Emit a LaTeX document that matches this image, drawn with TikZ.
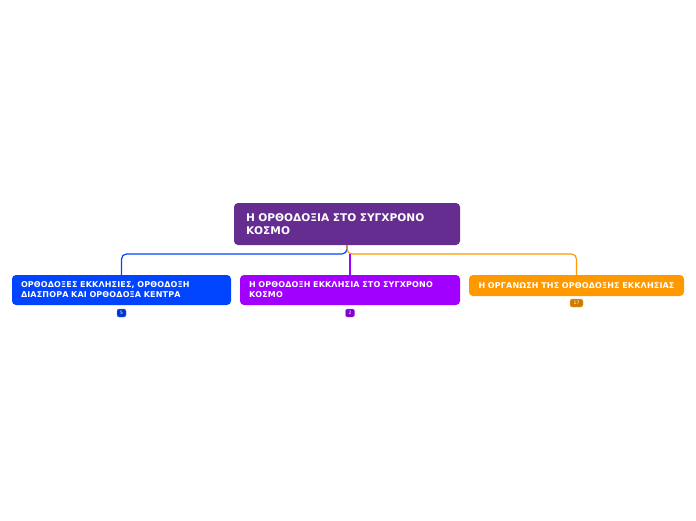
\documentclass[tikz,border=0pt]{standalone}
\usepackage{fontspec}
\setmainfont{DejaVu Sans}
\newfontfamily\topicfont[LetterSpace=2]{DejaVu Sans}
\usepackage{xcolor}
\definecolor{rootcol}{HTML}{662D91}
\definecolor{bluecol}{HTML}{0044FF}
\definecolor{purpcol}{HTML}{A100FF}
\definecolor{orancol}{HTML}{FF9900}
\tikzset{
  topic/.style={fill=#1, text=white, rounded corners=4pt, font=\topicfont\bfseries\fontsize{8}{10}\selectfont,
    inner xsep=9pt, inner ysep=0pt, align=left},
  badge/.style={fill=#1!80!black, draw=#1!70!white, rounded corners=2pt, text=white,
    font=\fontsize{4.5}{5}\selectfont, inner sep=0pt, minimum height=8pt, minimum width=9pt},
  link/.style={line width=1.2pt, rounded corners=5pt}
}
\begin{document}
\begin{tikzpicture}[x=1pt,y=-1pt]
  \useasboundingbox (0,0) rectangle (696,520);
  \node[topic=rootcol, font=\bfseries\fontsize{10.6}{13}\selectfont, inner xsep=12pt,
    text width=202pt, minimum height=42pt] (root) at (347,224)
    {Η ΟΡΘΟΔΟΞΙΑ ΣΤΟ ΣΥΓΧΡΟΝΟ\\ΚΟΣΜΟ};
  \node[topic=bluecol, text width=201pt, minimum height=30pt] (a) at (121.5,290)
    {ΟΡΘΟΔΟΞΕΣ ΕΚΚΛΗΣΙΕΣ, ΟΡΘΟΔΟΞΗ\\ΔΙΑΣΠΟΡΑ ΚΑΙ ΟΡΘΟΔΟΞΑ ΚΕΝΤΡΑ};
  \node[topic=purpcol, text width=202pt, minimum height=30pt] (b) at (350,290)
    {Η ΟΡΘΟΔΟΞΗ ΕΚΚΛΗΣΙΑ ΣΤΟ ΣΥΓΧΡΟΝΟ\\ΚΟΣΜΟ};
  \node[topic=orancol, align=center, text width=197pt, minimum height=21pt] (c) at (576.5,285.5)
    {Η ΟΡΓΑΝΩΣΗ ΤΗΣ ΟΡΘΟΔΟΞΗΣ ΕΚΚΛΗΣΙΑΣ};
  \node[badge=bluecol] (na) at (121.5,313) {5};
  \node[badge=purpcol] (nb) at (350,313) {2};
  \node[badge=orancol, minimum width=13pt] (nc) at (576.5,303) {17};
  \coordinate (j) at (347,254);
  \draw[link, bluecol] (root.south) -- (j) -| (a.north);
  \draw[link, orancol] (root.south) -- (j) -| (c.north);
  \draw[link, purpcol] (b.north |- j) -- (b.north);
\end{tikzpicture}
\end{document}
